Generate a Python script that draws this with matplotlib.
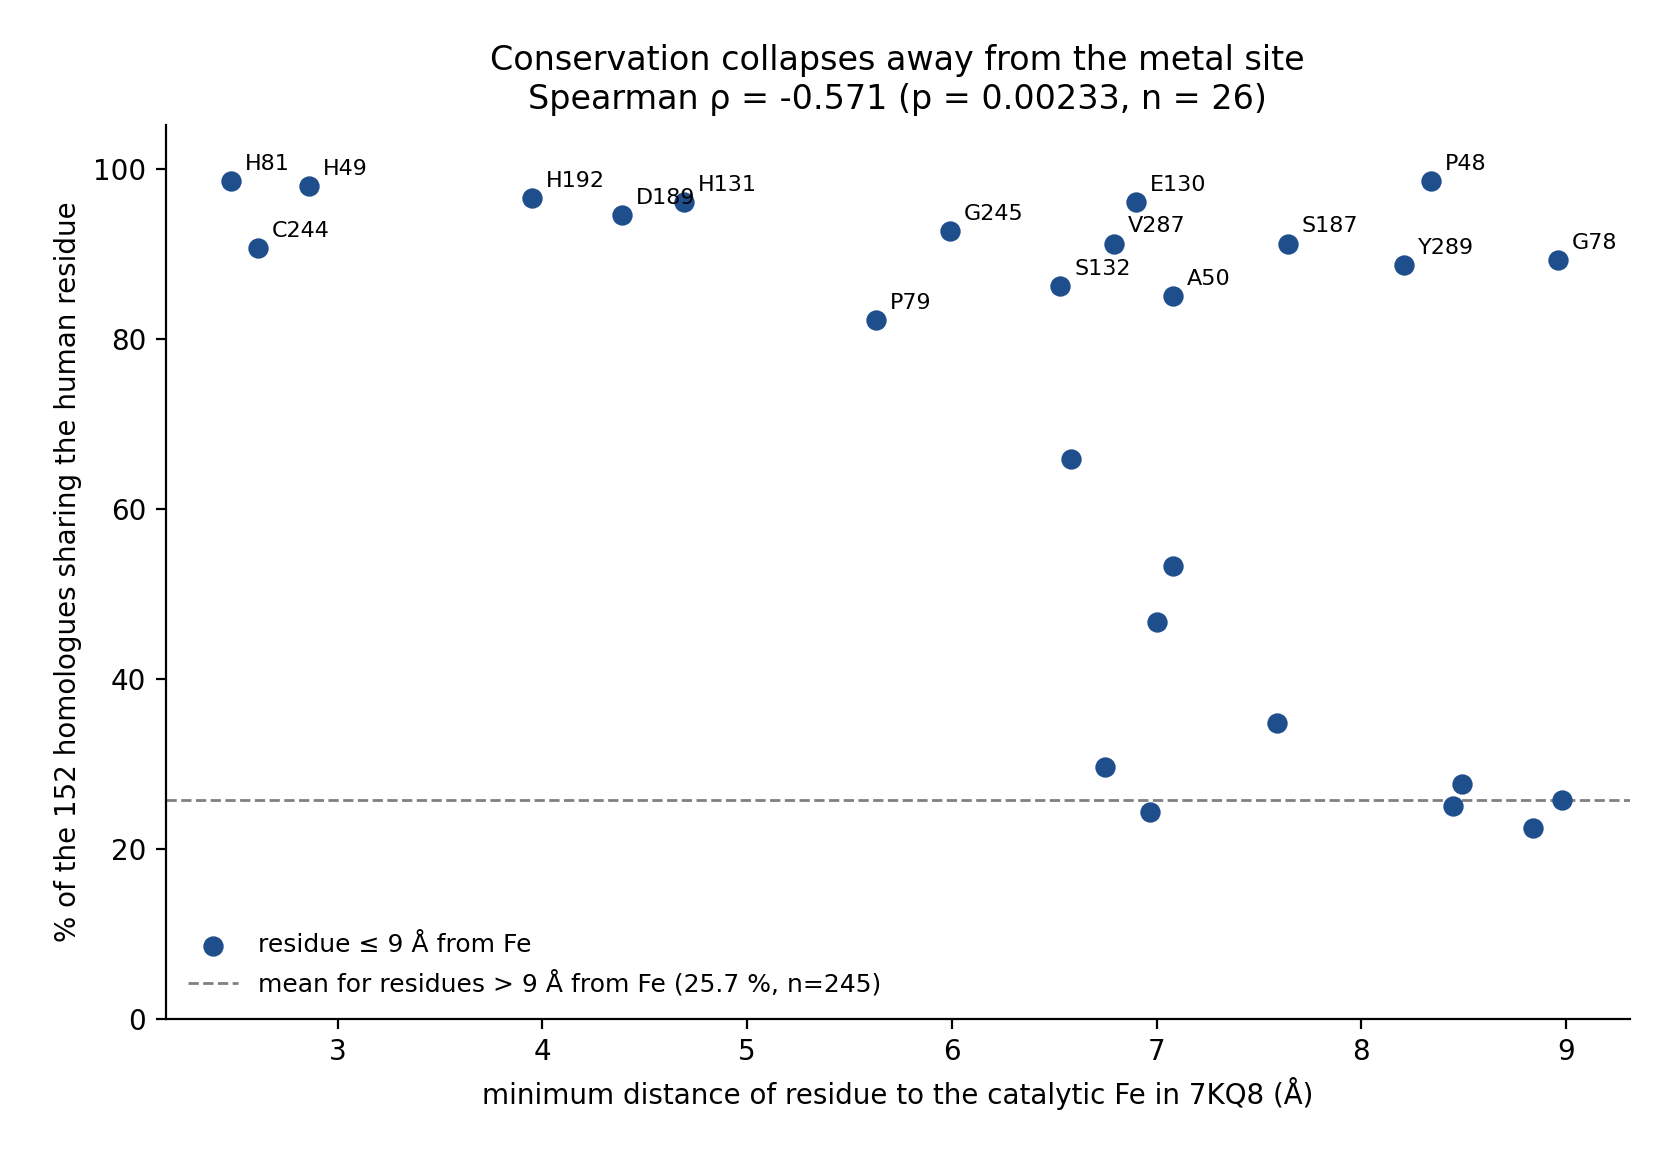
import matplotlib
matplotlib.use("Agg")
import matplotlib.pyplot as plt

labels = ["H81","H49","C244","H192","D189","H131","P79","G245","S132","V287","E130","A50","S187","Y289","P48","G78",
          "","","","","","","","","",""]
dist = [2.48,2.86,2.61,3.95,4.39,4.69,5.63,5.99,6.53,6.79,6.90,7.08,7.64,8.21,8.34,8.96,
        6.58,7.08,7.00,7.59,6.75,6.97,8.49,8.45,8.84,8.98]
cons = [98.6,98.0,90.7,96.6,94.6,96.1,82.2,92.7,86.2,91.2,96.1,85.0,91.2,88.7,98.6,89.3,
        65.8,53.3,46.7,34.8,29.6,24.3,27.6,25.1,22.4,25.7]
far_mean = 25.7

fig = plt.figure(figsize=(8.28, 5.75), dpi=200)
ax = fig.add_axes([0.10, 0.114, 0.884, 0.777])
ax.scatter(dist, cons, s=40, color="#1f4e8c", zorder=3, label="residue ≤ 9 Å from Fe")
ax.axhline(far_mean, color="gray", ls="--", lw=1,
           label="mean for residues > 9 Å from Fe (25.7 %, n=245)")
for x, y, l in zip(dist, cons, labels):
    if l:
        ax.annotate(l, (x, y), xytext=(5, 4), textcoords="offset points", fontsize=8)
ax.set_xlim(2.16, 9.31)
ax.set_ylim(0, 105.1)
ax.set_xticks([3,4,5,6,7,8,9])
ax.set_yticks([0,20,40,60,80,100])
ax.spines["top"].set_visible(False)
ax.spines["right"].set_visible(False)
ax.set_xlabel("minimum distance of residue to the catalytic Fe in 7KQ8 (Å)")
ax.set_ylabel("% of the 152 homologues sharing the human residue")
ax.set_title("Conservation collapses away from the metal site\nSpearman ρ = -0.571 (p = 0.00233, n = 26)")
ax.legend(loc="lower left", frameon=False, fontsize=9)
fig.savefig("out.png", dpi=200)
